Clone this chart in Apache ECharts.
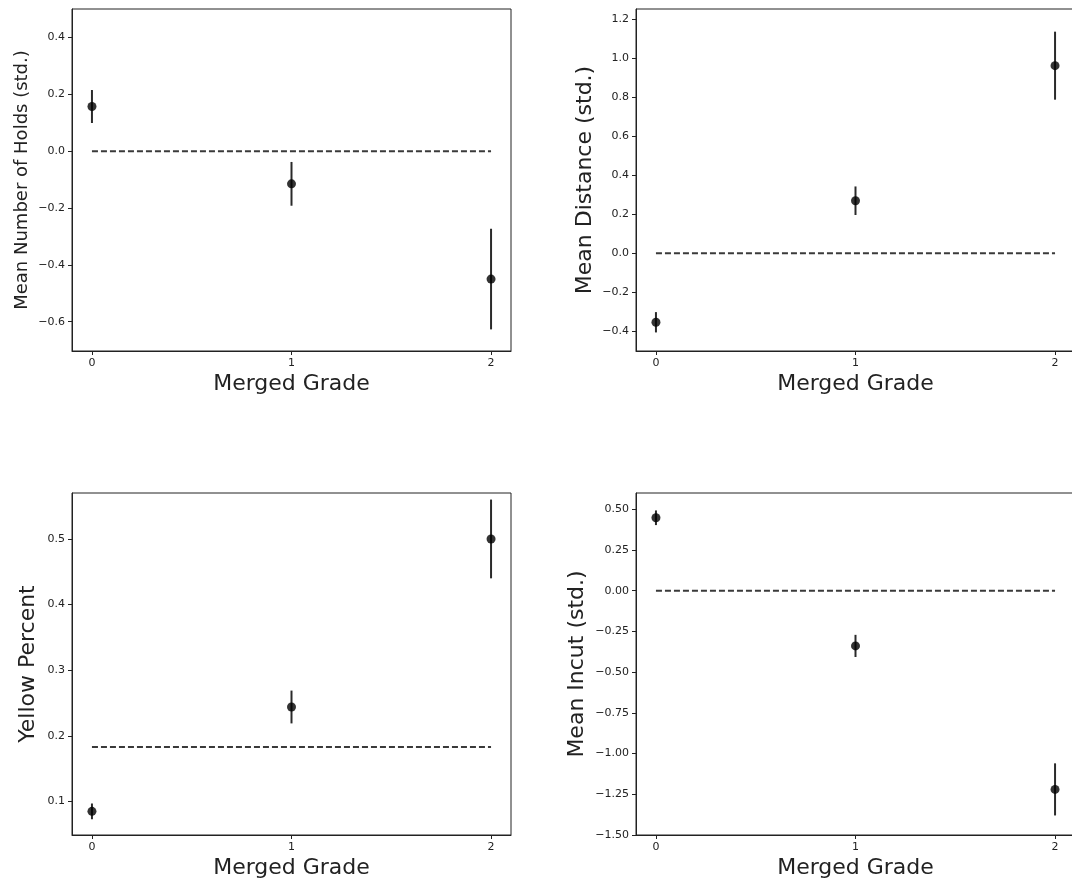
<!DOCTYPE html>
<html>
<head>
<meta charset="utf-8">
<title>Route features by merged grade</title>
<script src="https://cdn.jsdelivr.net/npm/echarts@6/dist/echarts.min.js"></script>
<style>
  html, body { margin: 0; padding: 0; background: #ffffff; }
  #chart { width: 1072px; height: 884px; }
</style>
</head>
<body>
<div id="chart"></div>
<script>
// Merged grade categories (x positions)
const grades = [0, 1, 2];
const gradeTicks = [0, 1, 2];

// Mean number of holds (standardised) with error half-widths
const holdsMean = [0.157, -0.115, -0.450];
const holdsErr = [0.058, 0.077, 0.177];
const holdsBaseline = 0;
const holdsTicks = [-0.6, -0.4, -0.2, 0.0, 0.2, 0.4];

// Mean distance (standardised)
const distMean = [-0.353, 0.269, 0.960];
const distErr = [0.052, 0.073, 0.174];
const distBaseline = 0;
const distTicks = [-0.4, -0.2, 0.0, 0.2, 0.4, 0.6, 0.8, 1.0, 1.2];

// Share of yellow holds
const yellowMean = [0.085, 0.244, 0.500];
const yellowErr = [0.012, 0.025, 0.060];
const yellowBaseline = 0.183;
const yellowTicks = [0.1, 0.2, 0.3, 0.4, 0.5];

// Mean incut (standardised)
const incutMean = [0.448, -0.339, -1.220];
const incutErr = [0.045, 0.068, 0.160];
const incutBaseline = 0;
const incutTicks = [-1.5, -1.25, -1.0, -0.75, -0.5, -0.25, 0.0, 0.25, 0.5];

const FONT = 'DejaVu Sans';
const INK = '#222222';

// right-hand panels run slightly past the canvas edge
const panels = [
  { name: 'Mean Number of Holds (std.)', nameSize: 18, nameGap: 41, mean: holdsMean, err: holdsErr, base: holdsBaseline, ticks: holdsTicks, min: -0.703, max: 0.5, dec: 1, left: 72, top: 9 },
  { name: 'Mean Distance (std.)', nameSize: 22, nameGap: 40, mean: distMean, err: distErr, base: distBaseline, ticks: distTicks, min: -0.5, max: 1.25, dec: 1, left: 636, top: 9 },
  { name: 'Yellow Percent', nameSize: 22, nameGap: 33, mean: yellowMean, err: yellowErr, base: yellowBaseline, ticks: yellowTicks, min: 0.049, max: 0.57, dec: 1, left: 72, top: 493 },
  { name: 'Mean Incut (std.)', nameSize: 22, nameGap: 48, mean: incutMean, err: incutErr, base: incutBaseline, ticks: incutTicks, min: -1.5, max: 0.6, dec: 2, left: 636, top: 493 }
];

const PLOT_W = 439;
const PLOT_H = 342;

function fmt(v, dec) {
  return v.toFixed(dec).replace('-', '\u2212');
}

const grid = [], xAxis = [], yAxis = [], series = [];

panels.forEach((p, i) => {
  grid.push({
    left: p.left, top: p.top, width: PLOT_W, height: PLOT_H,
    outerBoundsMode: 'none', containLabel: false,
    show: true, borderColor: INK, borderWidth: 1, backgroundColor: 'transparent'
  });

  xAxis.push({
    type: 'value', gridIndex: i, min: -0.1, max: 2.1,
    name: 'Merged Grade', nameLocation: 'middle', nameGap: 22,
    nameTextStyle: { fontFamily: FONT, fontSize: 22, color: INK },
    axisLine: { show: true, onZero: false, lineStyle: { color: INK, width: 1 } },
    axisTick: { show: true, length: 4, customValues: gradeTicks, lineStyle: { color: INK } },
    axisLabel: { show: true, customValues: gradeTicks, margin: 7, fontFamily: FONT, fontSize: 11, color: INK, formatter: v => String(v) },
    splitLine: { show: false }
  });

  yAxis.push({
    type: 'value', gridIndex: i, min: p.min, max: p.max,
    name: p.name, nameLocation: 'middle', nameGap: p.nameGap, nameRotate: 90,
    nameTextStyle: { fontFamily: FONT, fontSize: p.nameSize, color: INK },
    axisLine: { show: true, onZero: false, lineStyle: { color: INK, width: 1 } },
    axisTick: { show: true, length: 4, customValues: p.ticks, lineStyle: { color: INK } },
    axisLabel: { show: true, customValues: p.ticks, margin: 7, fontFamily: FONT, fontSize: 11, color: INK, formatter: v => fmt(v, p.dec) },
    splitLine: { show: false }
  });

  // dashed reference level across the grade range
  series.push({
    type: 'line', xAxisIndex: i, yAxisIndex: i,
    data: [[grades[0], p.base], [grades[grades.length - 1], p.base]],
    symbol: 'none', silent: true, z: 1,
    lineStyle: { color: '#3a3a3a', width: 2, type: [6, 3] }
  });

  // vertical error bars
  series.push({
    type: 'custom', xAxisIndex: i, yAxisIndex: i, z: 2,
    data: grades.map((g, k) => [g, p.mean[k], p.err[k]]),
    encode: { x: 0, y: 1 },
    renderItem: (params, api) => {
      const x = api.value(0), m = api.value(1), e = api.value(2);
      const a = api.coord([x, m + e]);
      const b = api.coord([x, m - e]);
      return {
        type: 'line',
        shape: { x1: a[0], y1: a[1], x2: b[0], y2: b[1] },
        style: { stroke: '#2a2a2a', lineWidth: 2 }
      };
    }
  });

  // means
  series.push({
    type: 'scatter', xAxisIndex: i, yAxisIndex: i, z: 3,
    data: grades.map((g, k) => [g, p.mean[k]]),
    symbol: 'circle', symbolSize: 9,
    itemStyle: { color: '#000000' }
  });
});

const chart = echarts.init(document.getElementById('chart'), null, { renderer: 'canvas' });
chart.setOption({
  animation: false,
  backgroundColor: '#ffffff',
  grid, xAxis, yAxis, series
});
</script>
</body>
</html>
